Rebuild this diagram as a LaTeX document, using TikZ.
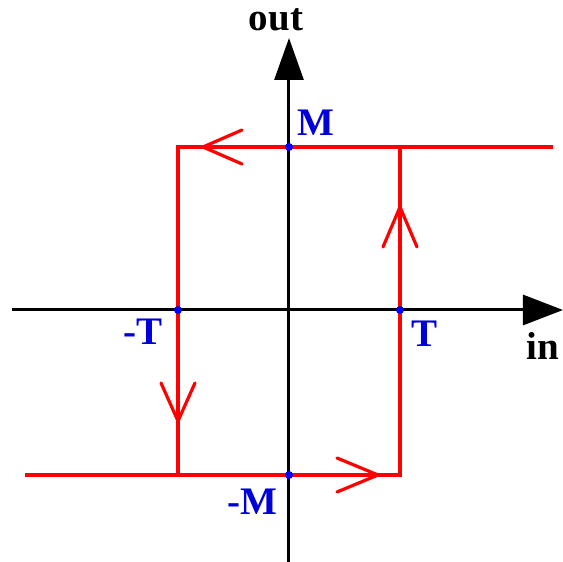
\documentclass[tikz,border=0pt]{standalone}
\usepackage{fontspec}
\setmainfont{Liberation Serif}
\usetikzlibrary{arrows.meta}

\begin{document}
\begin{tikzpicture}[x=1pt,y=1pt,
  axis/.style={line width=3pt,black},
  loop/.style={line width=3.2pt,red},
  chev/.style={line width=3.2pt,red,line cap=round},
  lbl/.style={text=blue!85!black,font=\fontsize{39}{40}\selectfont\bfseries},
  dot/.style={circle,fill=blue,inner sep=0pt,minimum size=8pt}]
\useasboundingbox (-289,-252) rectangle (274,310);
% axes
\draw[axis,-{Triangle[length=40pt,width=30pt]}] (-277,0) -- (274,0);
\draw[axis,-{Triangle[length=42pt,width=29pt]}] (0,-252) -- (0,272);
% hysteresis loop
\coordinate (tl) at (-111,163);
\coordinate (tr) at (111,163);
\coordinate (bl) at (-111,-165);
\coordinate (br) at (111,-165);
\draw[loop] (264,163) -- (tl) -- (bl);
\draw[loop] (-264,-165) -- (br) -- (tr);
% direction marks
\draw[chev] (-47,180) -- (-86,163) -- (-47,146);
\draw[chev] (94,63) -- (111,103) -- (128,63);
\draw[chev] (-128,-73) -- (-111,-111) -- (-94,-73);
\draw[chev] (48,-148) -- (89,-165) -- (48,-182);
% crossing points
\node[dot] (pM) at (0,163) {};
\node[dot] (pT) at (111,0) {};
\node[dot] (nT) at (-111,0) {};
\node[dot] (nM) at (0,-165) {};
% labels
\node[font=\fontsize{39}{40}\selectfont\bfseries] at (-13,290) {out};
\node[font=\fontsize{39}{40}\selectfont\bfseries] at (254,-36) {in};
\node[lbl] at (27,187) {M};
\node[lbl] at (136,-24) {T};
\node[lbl] at (-146,-22) {-T};
\node[lbl] at (-37,-192) {-M};
\end{tikzpicture}
\end{document}
